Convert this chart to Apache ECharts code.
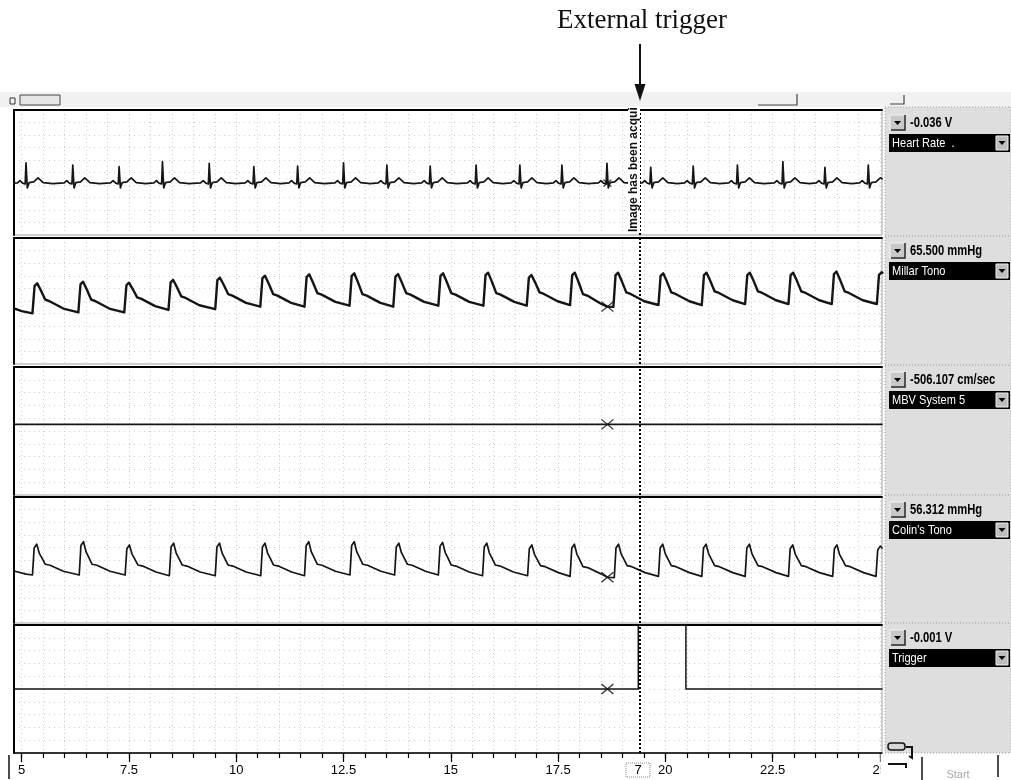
<!DOCTYPE html>
<html>
<head>
<meta charset="utf-8">
<script src="https://cdn.jsdelivr.net/npm/echarts@6/dist/echarts.min.js"></script>
<style>
  html, body { margin: 0; padding: 0; background: #fff; }
  #chart { width: 1011px; height: 780px; }
</style>
</head>
<body>
<div id="chart"></div>
<script>
// ---- recording window (seconds) and ruler labels ----
const timeRange = [4.82, 25.05];
const tickValues = [5, 7.5, 10, 12.5, 15, 17.5, 20, 22.5, 25];

// ---- channel descriptions ----
const channelNames = ['Heart Rate  .', 'Millar Tono', 'MBV System 5', "Colin's Tono", 'Trigger'];
const channelUnits = ['V', 'mmHg', 'cm/sec', 'mmHg', 'V'];
const cursorTime = 18.65;
const cursorValues = [-0.036, 65.5, -506.107, 56.312, -0.001];
const triggerTime = 19.41;

// ---- recorded traces: [time s, value] ----
const heartRate = [
  [4.82,-0.036],
  [4.90,-0.034],[4.96,-0.004],[5.02,-0.036],[5.08,-0.047],[5.10,0.225],[5.13,-0.098],[5.17,-0.030],[5.28,-0.020],[5.38,0.032],[5.50,-0.030],[5.72,-0.042],
  [5.99,-0.034],[6.05,-0.004],[6.11,-0.036],[6.17,-0.047],[6.19,0.196],[6.22,-0.098],[6.26,-0.030],[6.37,-0.020],[6.47,0.032],[6.59,-0.030],[6.81,-0.042],
  [7.07,-0.034],[7.13,-0.004],[7.19,-0.036],[7.25,-0.047],[7.27,0.174],[7.30,-0.098],[7.34,-0.030],[7.45,-0.020],[7.55,0.032],[7.67,-0.030],[7.89,-0.042],
  [8.08,-0.034],[8.14,-0.004],[8.20,-0.036],[8.26,-0.047],[8.28,0.238],[8.31,-0.098],[8.35,-0.030],[8.46,-0.020],[8.56,0.032],[8.68,-0.030],[8.90,-0.042],
  [9.17,-0.034],[9.23,-0.004],[9.29,-0.036],[9.35,-0.047],[9.37,0.218],[9.40,-0.098],[9.44,-0.030],[9.55,-0.020],[9.65,0.032],[9.77,-0.030],[9.99,-0.042],
  [10.21,-0.034],[10.27,-0.004],[10.33,-0.036],[10.39,-0.047],[10.41,0.174],[10.44,-0.098],[10.48,-0.030],[10.59,-0.020],[10.69,0.032],[10.81,-0.030],[11.03,-0.042],
  [11.23,-0.034],[11.29,-0.004],[11.35,-0.036],[11.41,-0.047],[11.43,0.183],[11.46,-0.098],[11.50,-0.030],[11.61,-0.020],[11.71,0.032],[11.83,-0.030],[12.05,-0.042],
  [12.30,-0.034],[12.36,-0.004],[12.42,-0.036],[12.48,-0.047],[12.50,0.225],[12.53,-0.098],[12.57,-0.030],[12.68,-0.020],[12.78,0.032],[12.90,-0.030],[13.12,-0.042],
  [13.31,-0.034],[13.37,-0.004],[13.43,-0.036],[13.49,-0.047],[13.51,0.196],[13.54,-0.098],[13.58,-0.030],[13.69,-0.020],[13.79,0.032],[13.91,-0.030],[14.13,-0.042],
  [14.32,-0.034],[14.38,-0.004],[14.44,-0.036],[14.50,-0.047],[14.52,0.183],[14.55,-0.098],[14.59,-0.030],[14.70,-0.020],[14.80,0.032],[14.92,-0.030],[15.14,-0.042],
  [15.39,-0.034],[15.45,-0.004],[15.51,-0.036],[15.57,-0.047],[15.59,0.196],[15.62,-0.098],[15.66,-0.030],[15.77,-0.020],[15.87,0.032],[15.99,-0.030],[16.21,-0.042],
  [16.41,-0.034],[16.47,-0.004],[16.53,-0.036],[16.59,-0.047],[16.61,0.196],[16.64,-0.098],[16.68,-0.030],[16.79,-0.020],[16.89,0.032],[17.01,-0.030],[17.23,-0.042],
  [17.39,-0.034],[17.45,-0.004],[17.51,-0.036],[17.57,-0.047],[17.59,0.196],[17.62,-0.098],[17.66,-0.030],[17.77,-0.020],[17.87,0.032],[17.99,-0.030],[18.21,-0.042],
  [18.44,-0.034],[18.50,-0.004],[18.56,-0.036],[18.62,-0.047],[18.64,0.218],[18.67,-0.098],[18.71,-0.030],[18.82,-0.020],[18.92,0.032],[19.04,-0.030],[19.26,-0.042],
  [19.46,-0.034],[19.52,-0.004],[19.58,-0.036],[19.64,-0.047],[19.66,0.167],[19.69,-0.098],[19.73,-0.030],[19.84,-0.020],[19.94,0.032],[20.06,-0.030],[20.28,-0.042],
  [20.45,-0.034],[20.51,-0.004],[20.57,-0.036],[20.63,-0.047],[20.65,0.183],[20.68,-0.098],[20.72,-0.030],[20.83,-0.020],[20.93,0.032],[21.05,-0.030],[21.27,-0.042],
  [21.48,-0.034],[21.54,-0.004],[21.60,-0.036],[21.66,-0.047],[21.68,0.196],[21.71,-0.098],[21.75,-0.030],[21.86,-0.020],[21.96,0.032],[22.08,-0.030],[22.30,-0.042],
  [22.54,-0.034],[22.60,-0.004],[22.66,-0.036],[22.72,-0.047],[22.74,0.238],[22.77,-0.098],[22.81,-0.030],[22.92,-0.020],[23.02,0.032],[23.14,-0.030],[23.36,-0.042],
  [23.52,-0.034],[23.58,-0.004],[23.64,-0.036],[23.70,-0.047],[23.72,0.167],[23.75,-0.098],[23.79,-0.030],[23.90,-0.020],[24.00,0.032],[24.12,-0.030],[24.34,-0.042],
  [24.53,-0.034],[24.59,-0.004],[24.65,-0.036],[24.71,-0.047],[24.73,0.196],[24.76,-0.098],[24.80,-0.030],[24.91,-0.020],[25.01,0.032],[25.05,0.020]
];

const millarTono = [
  [4.82,64.2],[5.00,62.0],
  [5.25,60.2],[5.30,82.0],[5.36,84.0],[5.45,78.2],[5.55,71.0],[5.65,69.8],[5.97,64.0],
  [6.32,61.0],[6.37,83.3],[6.43,85.3],[6.52,78.9],[6.62,71.0],[6.72,69.8],[7.04,64.0],
  [7.39,61.0],[7.44,82.5],[7.50,84.5],[7.59,79.3],[7.69,72.9],[7.79,71.7],[8.11,65.9],
  [8.42,62.9],[8.47,84.7],[8.53,86.7],[8.62,80.8],[8.72,73.6],[8.82,72.4],[9.14,66.6],
  [9.51,63.6],[9.56,86.5],[9.62,88.5],[9.71,82.7],[9.81,75.5],[9.91,74.3],[10.23,68.5],
  [10.56,65.5],[10.61,88.1],[10.67,90.1],[10.76,83.5],[10.86,75.5],[10.96,74.3],[11.28,68.5],
  [11.59,65.5],[11.64,89.2],[11.70,91.2],[11.79,84.5],[11.89,76.3],[11.99,75.1],[12.31,69.3],
  [12.64,66.3],[12.69,90.0],[12.75,92.0],[12.84,84.6],[12.94,75.5],[13.04,74.3],[13.36,68.5],
  [13.66,65.5],[13.71,89.4],[13.77,91.4],[13.86,84.6],[13.96,76.3],[14.06,75.1],[14.38,69.3],
  [14.71,66.3],[14.76,90.0],[14.82,92.0],[14.91,84.9],[15.01,76.3],[15.11,75.1],[15.43,69.3],
  [15.76,66.3],[15.81,90.5],[15.87,92.5],[15.96,85.2],[16.06,76.3],[16.16,75.1],[16.48,69.3],
  [16.77,66.3],[16.82,88.6],[16.88,90.6],[16.97,84.4],[17.07,76.8],[17.17,75.6],[17.49,69.8],
  [17.78,66.8],[17.83,90.5],[17.89,92.5],[17.98,84.9],[18.08,75.5],[18.18,74.3],[18.50,67.8],[18.65,65.5],
  [18.79,65.3],[18.84,90.5],[18.90,92.5],[18.99,85.4],[19.09,76.8],[19.19,75.6],[19.51,69.8],
  [19.84,66.8],[19.89,90.0],[19.95,92.0],[20.04,85.2],[20.14,76.8],[20.24,75.6],[20.56,69.8],
  [20.85,66.8],[20.90,90.5],[20.96,92.5],[21.05,85.8],[21.15,77.6],[21.25,76.4],[21.57,70.6],
  [21.86,67.6],[21.91,90.5],[21.97,92.5],[22.06,85.8],[22.16,77.6],[22.26,76.4],[22.58,70.6],
  [22.87,67.6],[22.92,90.5],[22.98,92.5],[23.07,85.8],[23.17,77.6],[23.27,76.4],[23.59,70.6],
  [23.88,67.6],[23.93,91.3],[23.99,93.3],[24.08,86.2],[24.18,77.6],[24.28,76.4],[24.60,70.6],
  [24.93,67.6],[24.98,90.8],[25.04,92.8],[25.06,92.5]
];

const mbvSystem5 = [
  [4.82,-506.107],[10.00,-506.107],[15.00,-506.107],[18.65,-506.107],[20.00,-506.107],[25.05,-506.107]
];

const colinsTono = [
  [4.82,61.3],[5.10,58.8],
  [5.25,58.1],[5.29,79.5],[5.35,82.5],[5.41,75.3],[5.47,71.7],[5.55,66.6],[5.66,65.8],[5.97,61.1],
  [6.34,58.1],[6.38,81.5],[6.44,84.5],[6.50,76.4],[6.56,72.3],[6.64,66.6],[6.75,65.8],[7.06,61.1],
  [7.41,58.1],[7.45,78.9],[7.51,81.9],[7.57,74.7],[7.63,71.1],[7.71,66.0],[7.82,65.2],[8.13,60.5],
  [8.44,57.5],[8.48,80.3],[8.54,83.3],[8.60,75.5],[8.66,71.5],[8.74,66.0],[8.85,65.2],[9.16,60.5],
  [9.51,57.5],[9.55,80.3],[9.61,83.3],[9.67,75.5],[9.73,71.5],[9.81,66.0],[9.92,65.2],[10.23,60.5],
  [10.57,57.5],[10.61,80.3],[10.67,83.3],[10.73,75.5],[10.79,71.5],[10.87,66.0],[10.98,65.2],[11.29,60.5],
  [11.59,57.5],[11.63,81.5],[11.69,84.5],[11.75,76.4],[11.81,72.3],[11.89,66.6],[12.00,65.8],[12.31,61.1],
  [12.65,58.1],[12.69,81.5],[12.75,84.5],[12.81,76.4],[12.87,72.3],[12.95,66.6],[13.06,65.8],[13.37,61.1],
  [13.69,58.1],[13.73,80.3],[13.79,83.3],[13.85,75.8],[13.91,71.9],[13.99,66.6],[14.10,65.8],[14.41,61.1],
  [14.71,58.1],[14.75,81.0],[14.81,84.0],[14.87,75.9],[14.93,71.8],[15.01,66.0],[15.12,65.2],[15.43,60.5],
  [15.74,57.5],[15.78,80.3],[15.84,83.3],[15.90,75.5],[15.96,71.5],[16.04,66.0],[16.15,65.2],[16.46,60.5],
  [16.79,57.5],[16.83,78.9],[16.89,81.9],[16.95,74.5],[17.01,70.7],[17.09,65.5],[17.20,64.7],[17.51,60.0],
  [17.78,57.0],[17.82,79.5],[17.88,82.5],[17.94,74.5],[18.00,70.5],[18.08,64.8],[18.19,64.0],[18.50,59.0],[18.65,56.3],
  [18.81,56.0],[18.85,79.5],[18.91,82.5],[18.97,74.9],[19.03,70.9],[19.11,65.5],[19.22,64.7],[19.53,60.0],
  [19.84,57.0],[19.88,79.5],[19.94,82.5],[20.00,74.9],[20.06,70.9],[20.14,65.5],[20.25,64.7],[20.56,60.0],
  [20.85,57.0],[20.89,79.5],[20.95,82.5],[21.01,74.9],[21.07,70.9],[21.15,65.5],[21.26,64.7],[21.57,60.0],
  [21.86,57.0],[21.90,79.5],[21.96,82.5],[22.02,74.9],[22.08,70.9],[22.16,65.5],[22.27,64.7],[22.58,60.0],
  [22.87,57.0],[22.91,78.9],[22.97,81.9],[23.03,74.5],[23.09,70.7],[23.17,65.5],[23.28,64.7],[23.59,60.0],
  [23.90,57.0],[23.94,78.9],[24.00,81.9],[24.06,74.5],[24.12,70.7],[24.20,65.5],[24.31,64.7],[24.62,60.0],
  [24.91,57.0],[24.95,78.0],[25.01,81.0],[25.05,79.5]
];

const trigger = [
  [4.82,-0.001],[19.37,-0.001],[19.37,5],[20.48,5],[20.48,-0.001],[25.05,-0.001]
];

const traces = [heartRate, millarTono, mbvSystem5, colinsTono, trigger];
const yRanges = [[-0.7, 0.9], [20, 120], [-1130, 0], [20, 120], [-5, 5]];

// ---- layout ----
const plotLeft = 14, plotWidth = 868;
const panelTops = [110, 238, 367, 497, 625];
const panelHeights = [125, 126, 128, 126, 128];
const traceWidths = [1.7, 2.4, 1.6, 1.7, 1.5];
const sans = '"Liberation Sans", Arial, sans-serif';

const minorTicks = [];
for (let t = 5; t <= 25.001; t += 0.5) minorTicks.push(+t.toFixed(1));

function rowLines(range) {
  const out = [];
  for (let k = 1; k < 10; k++) out.push(range[0] + (range[1] - range[0]) * k / 10);
  return out;
}

const grids = [], xAxes = [], yAxes = [], series = [];
const crossSymbol = 'path://M0,0L10,10M10,0L0,10';

traces.forEach((data, i) => {
  grids.push({
    left: plotLeft, width: plotWidth, top: panelTops[i], height: panelHeights[i],
    show: true, borderColor: '#a0a0a0', borderWidth: 1, backgroundColor: 'transparent',
    containLabel: false, outerBoundsMode: 'none'
  });
  xAxes.push({
    gridIndex: i, type: 'value', min: timeRange[0], max: timeRange[1], position: 'top',
    axisLine: { show: true, onZero: false, lineStyle: { color: '#000', width: 2 } },
    axisTick: { show: false, customValues: minorTicks },
    axisLabel: { show: false },
    splitLine: { show: true, lineStyle: { color: '#cccccc', width: 1, type: [1, 3] } }
  });
  yAxes.push({
    gridIndex: i, type: 'value', min: yRanges[i][0], max: yRanges[i][1],
    axisLine: { show: true, onZero: false, lineStyle: { color: '#000', width: 2 } },
    axisTick: { show: false, customValues: rowLines(yRanges[i]) },
    axisLabel: { show: false },
    splitLine: { show: true, lineStyle: { color: '#cfcfcf', width: 1, type: [1, 4] } }
  });
  series.push({
    type: 'line', name: channelNames[i], xAxisIndex: i, yAxisIndex: i, data: data,
    showSymbol: false, symbol: 'none', animation: false, silent: true,
    lineStyle: { color: '#151515', width: traceWidths[i], join: 'round', cap: 'round' },
    markLine: {
      silent: true, symbol: ['none', 'none'], animation: false,
      label: { show: false },
      lineStyle: { color: '#000', width: 2, type: [2, 2] },
      data: [{ xAxis: triggerTime }]
    },
    z: 3
  });
  series.push({
    type: 'scatter', xAxisIndex: i, yAxisIndex: i,
    data: [[cursorTime, cursorValues[i]]],
    symbol: crossSymbol, symbolSize: i === 0 ? [8, 7] : [12, 10],
    itemStyle: { color: 'rgba(0,0,0,0)', borderColor: '#111', borderWidth: 1.4 },
    animation: false, silent: true, z: 4
  });
});

// time ruler under the last panel: minor ticks and line
xAxes.push({
  gridIndex: 4, type: 'value', min: timeRange[0], max: timeRange[1], position: 'bottom',
  axisLine: { show: true, onZero: false, lineStyle: { color: '#000', width: 1.5 } },
  axisTick: { show: true, inside: false, length: 5, customValues: minorTicks, lineStyle: { color: '#000', width: 1.2 } },
  axisLabel: { show: false }, splitLine: { show: false }
});
// major ticks and labels
xAxes.push({
  gridIndex: 4, type: 'value', min: timeRange[0], max: timeRange[1], position: 'bottom',
  axisLine: { show: false, onZero: false },
  axisTick: { show: true, inside: false, length: 9, customValues: tickValues, lineStyle: { color: '#000', width: 1.2 } },
  axisLabel: {
    show: true, customValues: tickValues, margin: 11, color: '#000',
    fontSize: 13, fontFamily: sans, formatter: v => String(v)
  },
  splitLine: { show: false }
});

// ---- page furniture: heading, arrow, readout panel ----
const graphics = [];
graphics.push({
  type: 'text', x: 642, y: 21, z: 10,
  style: { text: 'External trigger', font: '27px "Liberation Serif", "Times New Roman", serif', fill: '#111', textAlign: 'center', textVerticalAlign: 'middle' }
});
graphics.push({ type: 'line', z: 10, shape: { x1: 640, y1: 44, x2: 640, y2: 88 }, style: { stroke: '#111', lineWidth: 2 } });
graphics.push({ type: 'polygon', z: 10, shape: { points: [[634.5, 84], [645.5, 84], [640, 101]] }, style: { fill: '#111' } });

// toolbar strip
graphics.push({ type: 'rect', z: 1, shape: { x: 0, y: 92, width: 1011, height: 15 }, style: { fill: '#f1f1f1' } });
graphics.push({ type: 'rect', z: 2, shape: { x: 10, y: 98, width: 5, height: 6 }, style: { fill: 'none', stroke: '#333', lineWidth: 1 } });
graphics.push({ type: 'rect', z: 2, shape: { x: 20, y: 95, width: 40, height: 10 }, style: { fill: '#e6e6e6', stroke: '#444', lineWidth: 1 } });
graphics.push({ type: 'polyline', z: 2, shape: { points: [[758, 105], [797, 105], [797, 94]] }, style: { stroke: '#444', lineWidth: 1.2 } });
graphics.push({ type: 'polyline', z: 2, shape: { points: [[890, 104], [904, 104], [904, 95]] }, style: { stroke: '#444', lineWidth: 1.2 } });

// cursor note written vertically in the top panel
graphics.push({
  type: 'text', x: 634, y: 233, rotation: Math.PI / 2, z: 20,
  style: { text: 'Image has been acqui', font: 'bold 12px ' + sans, fill: '#111', textAlign: 'left', textVerticalAlign: 'middle', backgroundColor: '#fff', padding: [0, 1] }
});

// readout panel on the right
graphics.push({ type: 'rect', z: 5, shape: { x: 885, y: 107, width: 126, height: 646 }, style: { fill: '#dedede', stroke: '#9c9c9c', lineWidth: 1, lineDash: [1, 2] } });
panelTops.forEach((top, i) => {
  if (i > 0) graphics.push({ type: 'line', z: 6, shape: { x1: 885, y1: top - 2, x2: 1011, y2: top - 2 }, style: { stroke: '#999', lineWidth: 1, lineDash: [1, 2] } });
  // drop-down button
  graphics.push({ type: 'rect', z: 6, shape: { x: 890, y: top + 5, width: 15, height: 15 }, style: { fill: '#c9c9c9', stroke: '#f4f4f4', lineWidth: 1 } });
  graphics.push({ type: 'polyline', z: 7, shape: { points: [[891, top + 20], [905, top + 20], [905, top + 5]] }, style: { stroke: '#222', lineWidth: 1.5 } });
  graphics.push({ type: 'polygon', z: 7, shape: { points: [[894, top + 11], [901, top + 11], [897.5, top + 15]] }, style: { fill: '#000' } });
  graphics.push({
    type: 'text', z: 7, x: 910, y: top + 13, scaleX: 0.8,
    style: { text: cursorValues[i].toFixed(3) + ' ' + channelUnits[i], font: 'bold 14px ' + sans, fill: '#000', textAlign: 'left', textVerticalAlign: 'middle' }
  });
  // channel name bar
  graphics.push({ type: 'rect', z: 6, shape: { x: 889, y: top + 24, width: 121, height: 18 }, style: { fill: '#000' } });
  graphics.push({
    type: 'text', z: 7, x: 892, y: top + 33, scaleX: 0.85,
    style: { text: channelNames[i], font: '13px ' + sans, fill: '#fff', textAlign: 'left', textVerticalAlign: 'middle' }
  });
  graphics.push({ type: 'rect', z: 7, shape: { x: 996, y: top + 26, width: 12, height: 14 }, style: { fill: '#bdbdbd', stroke: '#eee', lineWidth: 1 } });
  graphics.push({ type: 'polygon', z: 8, shape: { points: [[998.5, top + 31], [1005.5, top + 31], [1002, top + 35]] }, style: { fill: '#000' } });
});

// cursor position box on the ruler
graphics.push({ type: 'rect', z: 6, shape: { x: 626, y: 763, width: 24, height: 14 }, style: { fill: '#fff', stroke: '#888', lineWidth: 1, lineDash: [1, 1] } });
graphics.push({ type: 'text', z: 7, x: 638, y: 770.5, style: { text: '7', font: '13px ' + sans, fill: '#000', textAlign: 'center', textVerticalAlign: 'middle' } });

// window edge and controls at the bottom right
graphics.push({ type: 'line', z: 6, shape: { x1: 9, y1: 755, x2: 9, y2: 779 }, style: { stroke: '#111', lineWidth: 1.5 } });
graphics.push({ type: 'rect', z: 6, shape: { x: 880.5, y: 754, width: 131, height: 26 }, style: { fill: '#fff' } });
graphics.push({ type: 'rect', z: 7, shape: { x: 888, y: 743, width: 17, height: 7, r: 3 }, style: { fill: '#d6d6d6', stroke: '#111', lineWidth: 1.5 } });
graphics.push({ type: 'polyline', z: 7, shape: { points: [[906, 747], [912, 747], [912, 758], [909, 756]] }, style: { stroke: '#111', lineWidth: 2 } });
graphics.push({ type: 'polyline', z: 7, shape: { points: [[888, 764], [906, 764], [906, 768]] }, style: { stroke: '#111', lineWidth: 2 } });
graphics.push({ type: 'line', z: 7, shape: { x1: 922, y1: 757, x2: 922, y2: 780 }, style: { stroke: '#111', lineWidth: 1.5 } });
graphics.push({ type: 'line', z: 7, shape: { x1: 998, y1: 755, x2: 998, y2: 777 }, style: { stroke: '#111', lineWidth: 1.5 } });
graphics.push({ type: 'text', z: 7, x: 958, y: 775, style: { text: 'Start', font: '11px ' + sans, fill: '#a8a8a8', textAlign: 'center', textVerticalAlign: 'middle' } });

const chart = echarts.init(document.getElementById('chart'), null, { renderer: 'canvas' });
chart.setOption({
  animation: false,
  backgroundColor: '#fff',
  grid: grids,
  xAxis: xAxes,
  yAxis: yAxes,
  series: series,
  graphic: { elements: graphics }
});
</script>
</body>
</html>
